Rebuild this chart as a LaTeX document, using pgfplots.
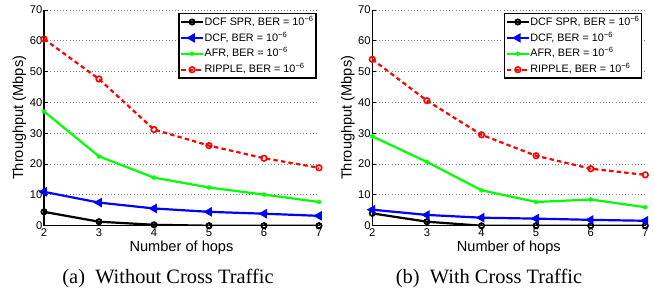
\documentclass[border=0pt]{standalone}
\usepackage{fontspec}
\setmainfont{Liberation Sans}
\newfontfamily\capfont{Liberation Serif}
\usepackage{pgfplots}
\pgfplotsset{compat=1.18}
\pgfplotsset{
  myaxis/.style={
    scale only axis,
    height=107.85pt,
    xmin=2, xmax=7, ymin=0, ymax=70,
    xtick={2,3,4,5,6,7},
    ytick={0,10,20,30,40,50,60,70},
    axis x line=bottom, axis y line=left,
    x axis line style={-, line width=0.6pt},
    y axis line style={-, line width=0.6pt},
    tick align=inside,
    major tick length=2pt,
    tick style={black, line width=0.4pt},
    ymajorgrids,
    major grid style={gray, line width=0.4pt, dash pattern=on 0.4pt off 1.2pt},
    /pgf/number format/assume math mode=true,
    tick label style={font=\fontsize{5.6}{6}\selectfont},
    yticklabel style={inner xsep=0.6pt},
    xticklabel style={inner ysep=1.2pt},
    label style={font=\fontsize{7.3}{8}\selectfont},
    xlabel={Number of hops},
    ylabel={Throughput (Mbps)},
    xlabel style={at={(axis description cs:0.5,-0.103)}, anchor=center},
    ylabel style={at={(axis description cs:-0.09,0.5)}, anchor=center},
    legend cell align=left,
    legend style={font=\fontsize{5.4}{6}\selectfont, draw=black, line width=0.6pt,
      inner xsep=0.6pt, inner ysep=0.2pt, anchor=north east,
      nodes={inner ysep=0.9pt, inner xsep=0.3pt}},
    legend image code/.code={
      \draw[mark repeat=2,mark phase=2,#1] plot coordinates {(0cm,0cm) (0.19cm,0cm) (0.38cm,0cm)};
    },
  },
  spr/.style={black, line width=1.1pt, mark=o, mark size=1.3pt, mark options={solid, line width=0.9pt}},
  dcf/.style={blue, line width=1.1pt, mark=triangle*, mark size=1.7pt, mark options={solid, rotate=90}},
  afr/.style={green, line width=1.1pt, mark=asterisk, mark size=1.2pt, mark options={solid, line width=0.6pt}},
  rip/.style={red, line width=1.1pt, dash pattern=on 2.2pt off 1.6pt, mark=o, mark size=1.4pt, mark options={solid, line width=0.8pt}},
}
\begin{document}
\begin{tikzpicture}
\path[use as bounding box] (-22pt,-35.65pt) rectangle (305pt,112.85pt);
\begin{axis}[myaxis, width=137.5pt, legend style={at={(0.991,0.986)}}]
\addplot[spr] coordinates {(2,4.5) (3,1.3) (4,0.3) (5,0) (6,0) (7,0)};
\addlegendentry{DCF SPR, BER = 10\textsuperscript{−6}}
\addplot[dcf] coordinates {(2,11.0) (3,7.5) (4,5.6) (5,4.5) (6,3.9) (7,3.2)};
\addlegendentry{DCF, BER = 10\textsuperscript{−6}}
\addplot[afr] coordinates {(2,37.1) (3,22.5) (4,15.6) (5,12.4) (6,10.1) (7,7.7)};
\addlegendentry{AFR, BER = 10\textsuperscript{−6}}
\addplot[rip] coordinates {(2,60.6) (3,47.6) (4,31.2) (5,26.0) (6,21.9) (7,18.8)};
\addlegendentry{RIPPLE, BER = 10\textsuperscript{−6}}
\end{axis}
\begin{axis}[myaxis, width=136.5pt, at={(164.15pt,0pt)}, legend style={at={(0.989,0.986)}}]
\addplot[spr] coordinates {(2,4.0) (3,1.3) (4,0) (5,0) (6,0) (7,0)};
\addlegendentry{DCF SPR, BER = 10\textsuperscript{−6}}
\addplot[dcf] coordinates {(2,5.2) (3,3.5) (4,2.6) (5,2.3) (6,1.9) (7,1.6)};
\addlegendentry{DCF, BER = 10\textsuperscript{−6}}
\addplot[afr] coordinates {(2,29.0) (3,20.7) (4,11.5) (5,7.7) (6,8.5) (7,6.0)};
\addlegendentry{AFR, BER = 10\textsuperscript{−6}}
\addplot[rip] coordinates {(2,54.0) (3,40.6) (4,29.5) (5,22.7) (6,18.5) (7,16.5)};
\addlegendentry{RIPPLE, BER = 10\textsuperscript{−6}}
\end{axis}
\node[font=\capfont\fontsize{10.2}{12}\selectfont] at (62pt,-26.2pt) {(a)\ \ Without Cross Traffic};
\node[font=\capfont\fontsize{10.2}{12}\selectfont] at (222.5pt,-26.2pt) {(b)\ \ With Cross Traffic};
\end{tikzpicture}
\end{document}
